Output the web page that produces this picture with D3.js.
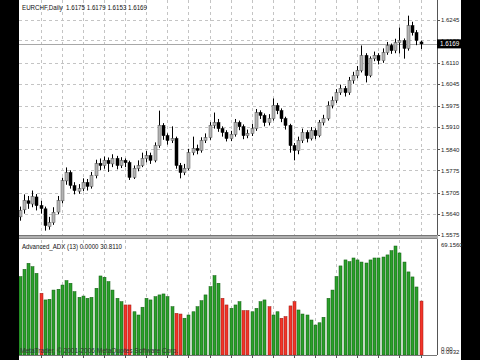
<!DOCTYPE html>
<html><head><meta charset="utf-8">
<script src="https://cdn.jsdelivr.net/npm/d3@7"></script>
<style>body{margin:0;background:#000}svg{display:block}</style>
</head><body>
<svg id="c" width="480" height="360"></svg>
<script>
const symbolTitle = "EURCHF,Daily  1.6175 1.6179 1.6153 1.6169";
const indicatorTitle = "Advanced_ADX (13) 0.0000 30.8110";
const footerText = "MetaTrader, \u00A9 2001-2006 MetaQuotes Software Corp.";
const lastPrice = 1.6169;

const openP = [1.5630,1.5652,1.5680,1.5670,1.5692,1.5665,1.5655,1.5600,1.5612,1.5645,
1.5680,1.5742,1.5768,1.5727,1.5710,1.5718,1.5737,1.5725,1.5758,1.5797,
1.5790,1.5806,1.5795,1.5812,1.5790,1.5806,1.5799,1.5753,1.5781,1.5790,
1.5812,1.5821,1.5806,1.5852,1.5915,1.5883,1.5868,1.5874,1.5790,1.5768,
1.5781,1.5830,1.5843,1.5837,1.5868,1.5877,1.5915,1.5924,1.5905,1.5893,
1.5874,1.5887,1.5924,1.5911,1.5883,1.5890,1.5905,1.5955,1.5946,1.5924,
1.5936,1.5977,1.5961,1.5936,1.5915,1.5852,1.5837,1.5868,1.5893,1.5874,
1.5899,1.5883,1.5924,1.5936,1.5977,1.5993,1.6017,1.6030,1.6017,1.6055,
1.6070,1.6086,1.6133,1.6070,1.6123,1.6133,1.6117,1.6142,1.6164,1.6148,
1.6173,1.6179,1.6155,1.6226,1.6204,1.6175];
const highP = [1.5662,1.5700,1.5695,1.5712,1.5701,1.5680,1.5662,1.5630,1.5660,1.5695,
1.5752,1.5784,1.5775,1.5738,1.5732,1.5750,1.5748,1.5770,1.5808,1.5812,
1.5818,1.5815,1.5825,1.5820,1.5816,1.5812,1.5805,1.5790,1.5806,1.5830,
1.5835,1.5830,1.5862,1.5961,1.5922,1.5890,1.5912,1.5880,1.5798,1.5795,
1.5842,1.5880,1.5855,1.5878,1.5890,1.5925,1.5955,1.5935,1.5912,1.5900,
1.5898,1.5935,1.5930,1.5918,1.5902,1.5920,1.5966,1.5962,1.5952,1.5950,
1.5999,1.5985,1.5968,1.5942,1.5920,1.5860,1.5880,1.5905,1.5900,1.5910,
1.5906,1.5932,1.5948,1.5990,1.6005,1.6028,1.6042,1.6038,1.6066,1.6082,
1.6100,1.6164,1.6140,1.6130,1.6145,1.6140,1.6155,1.6175,1.6170,1.6185,
1.6220,1.6186,1.6257,1.6238,1.6212,1.6179];
const lowP = [1.5618,1.5640,1.5655,1.5660,1.5650,1.5640,1.5587,1.5590,1.5605,1.5638,
1.5672,1.5730,1.5718,1.5700,1.5702,1.5710,1.5712,1.5718,1.5750,1.5775,
1.5780,1.5770,1.5785,1.5778,1.5782,1.5785,1.5745,1.5748,1.5772,1.5785,
1.5800,1.5795,1.5800,1.5845,1.5870,1.5855,1.5860,1.5780,1.5750,1.5760,
1.5775,1.5822,1.5825,1.5830,1.5860,1.5870,1.5905,1.5895,1.5880,1.5865,
1.5866,1.5880,1.5900,1.5872,1.5875,1.5882,1.5898,1.5935,1.5912,1.5915,
1.5930,1.5950,1.5925,1.5902,1.5830,1.5806,1.5825,1.5860,1.5862,1.5868,
1.5872,1.5878,1.5915,1.5930,1.5968,1.5985,1.6010,1.6005,1.6010,1.6045,
1.6062,1.6080,1.6049,1.6065,1.6115,1.6105,1.6110,1.6135,1.6138,1.6140,
1.6139,1.6123,1.6148,1.6195,1.6165,1.6153];
const closeP = [1.5650,1.5681,1.5672,1.5693,1.5665,1.5656,1.5603,1.5612,1.5644,1.5681,
1.5743,1.5768,1.5728,1.5712,1.5718,1.5737,1.5725,1.5759,1.5796,1.5790,
1.5806,1.5796,1.5812,1.5790,1.5806,1.5799,1.5753,1.5781,1.5790,1.5812,
1.5821,1.5806,1.5852,1.5915,1.5883,1.5868,1.5874,1.5790,1.5768,1.5781,
1.5830,1.5843,1.5837,1.5868,1.5877,1.5915,1.5924,1.5905,1.5893,1.5874,
1.5887,1.5924,1.5911,1.5883,1.5890,1.5905,1.5955,1.5946,1.5924,1.5936,
1.5977,1.5961,1.5936,1.5915,1.5852,1.5837,1.5868,1.5893,1.5874,1.5899,
1.5883,1.5924,1.5936,1.5977,1.5993,1.6017,1.6030,1.6017,1.6055,1.6070,
1.6086,1.6133,1.6070,1.6123,1.6133,1.6117,1.6142,1.6164,1.6148,1.6173,
1.6179,1.6155,1.6226,1.6204,1.6180,1.6169];

const adxValues = [48.4,52.9,56.6,54.5,50.4,38.1,34.0,34.4,40.1,40.6,
43.2,45.9,44.3,39.1,35.6,36.4,35.0,35.6,41.2,48.8,
48.0,45.3,40.1,35.0,32.9,30.9,30.9,26.7,24.7,29.5,
35.0,34.0,36.0,37.1,37.7,36.0,29.8,25.7,25.3,22.7,
24.7,26.7,29.8,33.5,37.1,42.2,49.0,44.3,35.0,30.9,
28.8,30.9,32.9,27.4,27.4,26.7,28.8,32.9,34.0,29.8,
24.7,26.7,22.7,23.7,30.3,32.9,27.8,25.3,24.7,21.6,
18.5,19.9,23.3,35.0,40.1,48.4,55.0,58.7,57.6,59.9,
58.7,57.4,56.8,58.7,59.9,59.9,60.5,61.8,64.4,67.3,
63.0,57.4,51.3,48.2,42.0,33.3];
const adxDownBars = [5,25,26,37,38,48,49,53,54,59,62,63,64,65,95];

const priceTicks = [1.6245,1.6180,1.6110,1.6045,1.5975,1.5910,1.5840,1.5775,1.5705,1.5640,1.5575];
const priceTickLabels = ["1.6245","1.6180","1.6110","1.6045","1.5975","1.5910","1.5840","1.5775","1.5705","1.5640","1.5575"];
const weekStartBars = [5,10,15,20,25,30,35,40,45,50,55,60,65,70,75,80,85,90,95];
const adxMaxLabel = "69.1560";
const adxMinLabel = "0.0932";

const svg = d3.select("#c");
const L = 19, R = 437, RB = 461;
const mainTop = 0, mainBot = 235, indTop = 240, indBot = 355;
const FONT = "Liberation Sans, Arial, sans-serif";

svg.append("rect").attr("width",480).attr("height",360).attr("fill","#000");
svg.append("rect").attr("x",L).attr("y",0).attr("width",RB-L).attr("height",360).attr("fill","#fff");

const x = d3.scaleLinear().domain([0,95]).range([19.6,420.5]);
const y = d3.scaleLinear().domain([1.5575,1.6245]).range([234.5,19.5]);
const ya = d3.scaleLinear().domain([0,69.156]).range([indBot,243]);

const defs = svg.append("defs");
defs.append("clipPath").attr("id","cm").append("rect").attr("x",L).attr("y",mainTop).attr("width",R-L).attr("height",mainBot-mainTop);
defs.append("clipPath").attr("id","ci").append("rect").attr("x",L).attr("y",indTop).attr("width",R-L).attr("height",indBot-indTop);

const gridStyle = s => s.attr("stroke","#c4c4c4").attr("stroke-width",1).attr("stroke-dasharray","3,3").attr("shape-rendering","crispEdges");

// main grid
const gm = svg.append("g").attr("clip-path","url(#cm)");
gm.selectAll("line.h").data(priceTicks).join("line").attr("class","h")
  .attr("x1",L).attr("x2",R).attr("y1",d=>Math.round(y(d))+0.5).attr("y2",d=>Math.round(y(d))+0.5).call(gridStyle);
gm.selectAll("line.v").data(weekStartBars).join("line").attr("class","v")
  .attr("x1",d=>Math.round(x(d))+0.5).attr("x2",d=>Math.round(x(d))+0.5).attr("y1",mainTop).attr("y2",mainBot).call(gridStyle);

// last price line
gm.append("line").attr("x1",L).attr("x2",R).attr("y1",Math.round(y(lastPrice))+0.5).attr("y2",Math.round(y(lastPrice))+0.5)
  .attr("stroke","#a8a8a8").attr("stroke-width",1).attr("shape-rendering","crispEdges");

// candles
const bars = d3.range(closeP.length);
const cg = gm.append("g");
cg.selectAll("line.w").data(bars).join("line").attr("class","w")
  .attr("x1",i=>Math.round(x(i))+0.5).attr("x2",i=>Math.round(x(i))+0.5)
  .attr("y1",i=>y(highP[i])).attr("y2",i=>y(lowP[i]))
  .attr("stroke","#000").attr("stroke-width",1);
cg.selectAll("rect.b").data(bars).join("rect").attr("class","b")
  .attr("x",i=>Math.round(x(i))-1).attr("width",3)
  .attr("y",i=>y(Math.max(openP[i],closeP[i])))
  .attr("height",i=>Math.max(1,Math.abs(y(openP[i])-y(closeP[i]))))
  .attr("fill",i=>closeP[i]>=openP[i]?"#b4b4b4":"#000")
  .attr("stroke",i=>closeP[i]>=openP[i]?"#555":"#000").attr("stroke-width",0.5);

// title
svg.append("text").attr("x",22).attr("y",10).text(symbolTitle)
  .attr("font-family",FONT).attr("font-size",6.3).attr("fill","#111")
  .attr("textLength",125).attr("lengthAdjust","spacingAndGlyphs").attr("xml:space","preserve").style("white-space","pre");

// price axis
svg.append("line").attr("x1",R+0.5).attr("x2",R+0.5).attr("y1",0).attr("y2",indBot).attr("stroke","#555").attr("shape-rendering","crispEdges");
svg.selectAll("line.pt").data(priceTicks).join("line").attr("class","pt")
  .attr("x1",R).attr("x2",R+3).attr("y1",d=>Math.round(y(d))+0.5).attr("y2",d=>Math.round(y(d))+0.5).attr("stroke","#555");
svg.selectAll("text.pl").data(priceTicks).join("text").attr("class","pl")
  .attr("x",441).attr("y",d=>y(d)+2.2).text((d,i)=>priceTickLabels[i])
  .attr("font-family",FONT).attr("font-size",6).attr("fill","#222");
const ly = y(lastPrice);
svg.append("rect").attr("x",R).attr("y",ly-4.5).attr("width",RB-R).attr("height",9).attr("fill","#000");
svg.append("text").attr("x",440).attr("y",ly+2.2).text(d3.format(".4f")(lastPrice))
  .attr("font-family",FONT).attr("font-size",6.3).attr("fill","#fff");

// separator
svg.append("rect").attr("x",L).attr("y",mainBot).attr("width",R-L+1).attr("height",indTop-mainBot-1).attr("fill","#b0b0b0");
svg.append("line").attr("x1",L).attr("x2",R).attr("y1",mainBot+0.5).attr("y2",mainBot+0.5).attr("stroke","#777");
svg.append("line").attr("x1",L).attr("x2",R).attr("y1",indTop-1.5).attr("y2",indTop-1.5).attr("stroke","#888");

// indicator grid
const gi = svg.append("g").attr("clip-path","url(#ci)");
gi.selectAll("line.v").data(weekStartBars).join("line").attr("class","v")
  .attr("x1",d=>Math.round(x(d))+0.5).attr("x2",d=>Math.round(x(d))+0.5).attr("y1",indTop).attr("y2",indBot).call(gridStyle);

// ADX histogram
const downSet = new Set(adxDownBars);
gi.selectAll("rect.a").data(bars).join("rect").attr("class","a")
  .attr("x",i=>Math.round(x(i))-1).attr("width",3)
  .attr("y",i=>ya(adxValues[i])).attr("height",i=>ya(0)-ya(adxValues[i]))
  .attr("fill",i=>downSet.has(i)?"#f2352a":"#2b9f2b")
  .attr("stroke",i=>downSet.has(i)?"#9a1a12":"#0f5a0f").attr("stroke-width",0.5);

svg.append("text").attr("x",22).attr("y",248.5).text(indicatorTitle)
  .attr("font-family",FONT).attr("font-size",6.3).attr("fill","#111")
  .attr("textLength",100).attr("lengthAdjust","spacingAndGlyphs");

svg.append("text").attr("x",441).attr("y",246.5).text(adxMaxLabel)
  .attr("font-family",FONT).attr("font-size",6).attr("fill","#222");
svg.append("text").attr("x",441).attr("y",351).text("0.00")
  .attr("font-family",FONT).attr("font-size",6).attr("fill","#222");
svg.append("text").attr("x",441).attr("y",354).text(adxMinLabel)
  .attr("font-family",FONT).attr("font-size",6).attr("fill","#222");

// footer
svg.append("text").attr("x",20).attr("y",353).text(footerText)
  .attr("font-family",FONT).attr("font-size",6.3).attr("fill","#333")
  .attr("textLength",158).attr("lengthAdjust","spacingAndGlyphs");

// time axis
svg.append("line").attr("x1",L).attr("x2",R).attr("y1",indBot+0.5).attr("y2",indBot+0.5).attr("stroke","#777").attr("shape-rendering","crispEdges");
svg.selectAll("line.tt").data(weekStartBars).join("line").attr("class","tt")
  .attr("x1",d=>Math.round(x(d))+0.5).attr("x2",d=>Math.round(x(d))+0.5).attr("y1",indBot).attr("y2",indBot+3).attr("stroke","#555");
</script>
</body></html>
